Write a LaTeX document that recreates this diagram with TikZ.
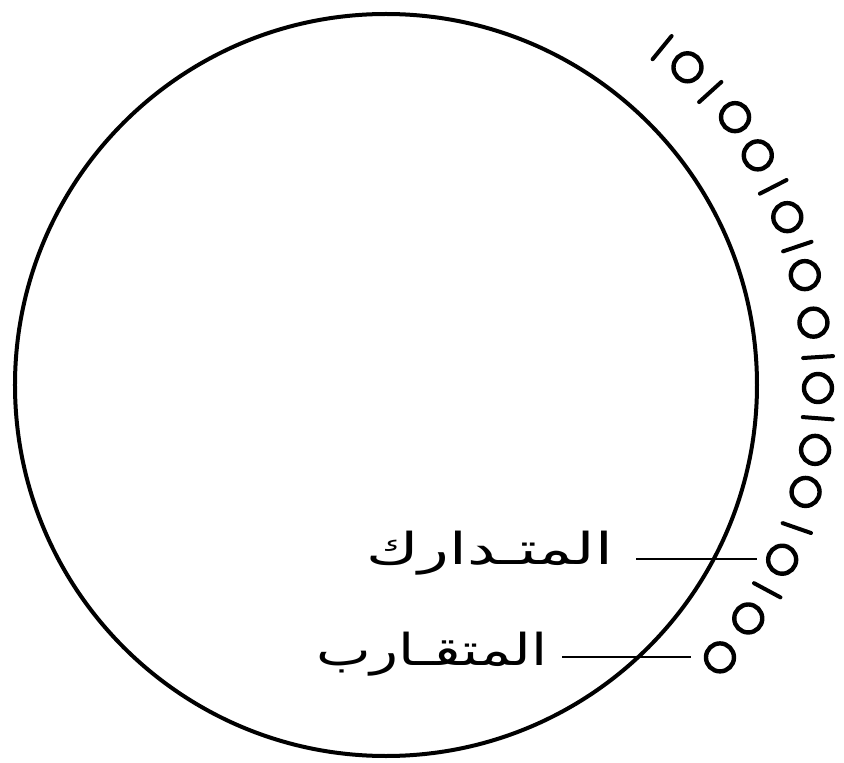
\documentclass[tikz,border=0pt]{standalone}
\usepackage{fontspec}
\newfontfamily\arabicfont[Script=Arabic]{DejaVu Sans}
\TeXXeTstate=1
\begin{document}
\begin{tikzpicture}[x=1pt,y=1pt,
  ring/.style={draw, circle, line width=4pt, minimum size=742pt, inner sep=0pt},
  sakin/.style={draw, circle, line width=4.4pt, minimum size=28pt, inner sep=0pt},
  haraka/.style={line width=4pt, line cap=round},
  lbl/.style={font=\arabicfont\fontsize{44}{44}\selectfont, inner sep=0pt},
  leader/.style={line width=2.4pt}]
\useasboundingbox (-386,-378) rectangle (458,385);
\node[ring] (C) at (0,0) {};
% sakin circles
\foreach \a/\r [count=\i] in {46.5/438, 37.5/440, 31.7/437, 22.7/435, 14.7/433, 8.3/432, -0.4/432, -8.6/434, -14.3/433, -23.8/433, -32.8/431, -39.2/431}
  \node[sakin] (o\i) at (\a:\r) {};
% haraka strokes (radial)
\foreach \a/\r [count=\i] in {50.7/436, 42.1/437, 27.1/435, 18.6/434, 3.7/433, -4.4/433, -19.2/435, -28.3/433}
  \draw[haraka] ({\a}:{\r-15}) -- ({\a}:{\r+15});
% labels
\node[lbl, anchor=base east] (mutadarik) at (227,-179) {\scalebox{1.45}[1]{\beginR المتـدارك\endR}};
\node[lbl, anchor=base east] (mutaqarib) at (162,-280) {\scalebox{1.32}[1]{\beginR المتقـارب\endR}};
\coordinate (a1) at (250,-174);
\coordinate (b1) at (371,-174);
\coordinate (a2) at (176,-272);
\coordinate (b2) at (305,-272);
\draw[leader] (a1) -- (b1);
\draw[leader] (a2) -- (b2);
\end{tikzpicture}
\end{document}
